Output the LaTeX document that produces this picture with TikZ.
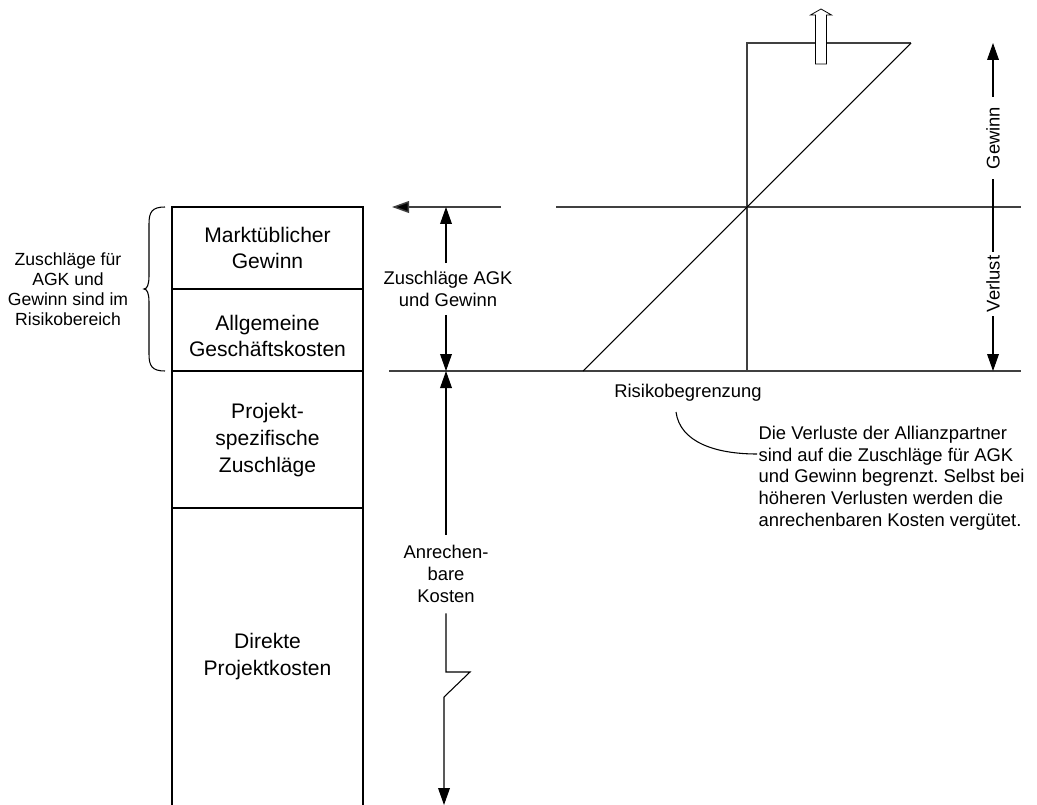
\documentclass[tikz,border=0pt]{standalone}
\usepackage{fontspec}
\setmainfont{Liberation Sans}
\frenchspacing
\usetikzlibrary{arrows.meta,positioning,calc}

\begin{document}
\begin{tikzpicture}[x=0.75pt,y=-0.75pt,
  lbl/.style={align=center,font=\fontsize{13.8}{16.3}\selectfont,inner sep=1pt},
  boxlbl/.style={align=center,font=\fontsize{15.8}{20.2}\selectfont},
  col/.style={line width=0.8pt},
  axis/.style={line width=1.1pt,black!75},
  arr/.style={-{Triangle[length=12.75pt,width=8.8pt]}}]
\useasboundingbox (0,0) rectangle (1037,805);
% Kostensaeule
\draw[col] (172,805) -- (172,207) -- (363,207) -- (363,805);
\draw[col] (172,289) -- (363,289) (172,371) -- (363,371) (172,508) -- (363,508);
\node[boxlbl] (mgew) at (267.5,248) {Marktüblicher\\Gewinn};
\node[boxlbl] (agk) at (267.5,336) {Allgemeine\\Geschäftskosten};
\node[boxlbl] (pzus) at (267.5,440) {Projekt-\\spezifische\\Zuschläge};
\node[boxlbl] (dpk) at (267.5,657) {Direkte\\Projektkosten};
% Klammer links
\draw[col] (165,207) .. controls (152,207) and (149,212) .. (149,224) -- (149,276)
  .. controls (149,285) and (147,289) .. (144,289) .. controls (147,289) and (149,293) .. (149,302)
  -- (149,354) .. controls (149,366) and (152,371) .. (165,371);
\node[lbl,font=\fontsize{13.2}{15}\selectfont] (risikob) at (68,289) {Zuschläge für\\AGK und\\Gewinn sind im\\Risikobereich};
% Linien
\coordinate (tipL) at (392,207);
\draw[axis,-{Triangle[length=12.75pt,width=8.8pt,fill=black]}] (501,207) -- (tipL);
\draw[axis] (556,207) -- (1021,207);
\draw[axis] (389,371) -- (1021,371);
\draw[axis] (747,371) -- (747,43) -- (911,43);
\draw[col] (911,43) -- (583,371);
% Pfeil nach oben
\draw[line width=0.6pt,fill=white] (815.5,64) -- (815.5,15) -- (810.5,15) -- (821,9)
  -- (831.5,15) -- (826.5,15) -- (826.5,64) -- cycle;
% Zuschlaege AGK und Gewinn
\coordinate (aTop) at (446,207);
\coordinate (aMid) at (446,371);
\node[lbl,inner ysep=6pt] (zag) at (448,289) {Zuschläge AGK\\und Gewinn};
\draw[col,arr] (aTop |- zag.north) -- (aTop);
\draw[col,arr] (aMid |- zag.south) -- (aMid);
% Anrechenbare Kosten
\node[lbl,inner ysep=8pt] (anr) at (446,574) {Anrechen-\\bare\\Kosten};
\coordinate (aBot) at (444,805);
\draw[col,arr] (anr) -- (aMid);
\draw[col,arr] (anr) -- (446,672) -- (470,672) -- (444,697) -- (aBot);
% Gewinn / Verlust
\coordinate (gTop) at (993,43);
\coordinate (vBot) at (993,371);
\node[lbl,rotate=90,inner xsep=7.5pt] (gw) at (993,138) {Gewinn};
\node[lbl,rotate=90,inner xsep=3pt] (vl) at (993,284) {Verlust};
\draw[col,arr] (gw) -- (gTop);
\draw[col] (gw) -- (vl);
\draw[col,arr] (vl) -- (vBot);
% Risikobegrenzung
\node[lbl] (risk) at (688,393) {Risikobegrenzung};
\node[lbl,align=left,anchor=west] (note) at (757,478) {Die Verluste der Allianzpartner\\sind auf die Zuschläge für AGK\\und Gewinn begrenzt. Selbst bei\\höheren Verlusten werden die\\anrechenbaren Kosten vergütet.};
\coordinate (c1) at (676,412);
\coordinate (c2) at (757,454);
\draw[col] (c1) .. controls (680,442) and (715,454) .. (c2);
\end{tikzpicture}
\end{document}
